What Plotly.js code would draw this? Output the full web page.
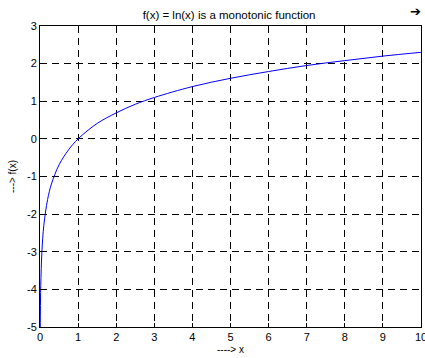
<!DOCTYPE html>
<html><head><meta charset="utf-8">
<script src="https://cdn.plot.ly/plotly-3.0.1.min.js"></script>
<style>html,body{margin:0;padding:0;background:#fff;}#c{width:425px;height:358px;}</style>
</head><body><div id="c"></div>
<script>
const xVals = [0.005, 0.01, 0.02, 0.05, 0.1, 0.2, 0.3, 0.5, 0.75, 1, 1.5, 2, 2.5, 3, 4, 5, 6, 7, 8, 9, 10];
const yVals = [-5.3, -4.6, -3.9, -3.0, -2.3, -1.61, -1.2, -0.69, -0.29, 0, 0.41, 0.69, 0.92, 1.1, 1.39, 1.61, 1.79, 1.95, 2.08, 2.2, 2.3];
const xTicks = [0,1,2,3,4,5,6,7,8,9,10];
const yTicks = [-5,-4,-3,-2,-1,0,1,2,3];
const titleText = "f(x) = ln(x) is a monotonic function";
const xLabel = "----> x";
const yLabel = "---> f(x)";

const F = 'Liberation Sans, Arial, sans-serif';
const axisCommon = {
  showline: true, mirror: true, linecolor: '#000', linewidth: 1,
  showgrid: true, gridcolor: '#000', griddash: '7px,5px', gridwidth: 1,
  ticks: 'inside', ticklen: 4, tickcolor: '#000',
  zeroline: false, ticklabeloverflow: 'allow',
  tickfont: {family: F, size: 11, color: '#000'}
};
Plotly.newPlot('c', [{
  x: xVals, y: yVals, type: 'scatter', mode: 'lines', line: {color: '#0000ff', width: 1, shape: 'spline'},
  hoverinfo: 'skip', cliponaxis: true
}], {
  width: 425, height: 358,
  margin: {l: 40, r: 4, t: 26, b: 31},
  paper_bgcolor: '#fff', plot_bgcolor: '#fff',
  showlegend: false,
  title: {text: titleText, font: {family: F, size: 11.5, color: '#000'}, x: 0.539, xanchor: 'center', y: 0.958, yanchor: 'middle'},
  xaxis: Object.assign({}, axisCommon, {range: [0, 10], tickvals: xTicks, ticktext: xTicks.map(String),
    title: {text: xLabel, font: {family: F, size: 10, color: '#000'}, standoff: 3}}),
  yaxis: Object.assign({}, axisCommon, {range: [-5, 3], tickvals: yTicks, ticktext: yTicks.map(String),
    title: {text: yLabel, font: {family: F, size: 10, color: '#000'}, standoff: 8}}),
  annotations: [{text: '➔', showarrow: false, xref: 'paper', yref: 'paper',
    x: (415-40)/381, y: 1 + (26-12)/301, xanchor: 'center', yanchor: 'middle',
    font: {family: 'DejaVu Sans', size: 13, color: '#000'}}]
}, {staticPlot: true});
</script></body></html>
